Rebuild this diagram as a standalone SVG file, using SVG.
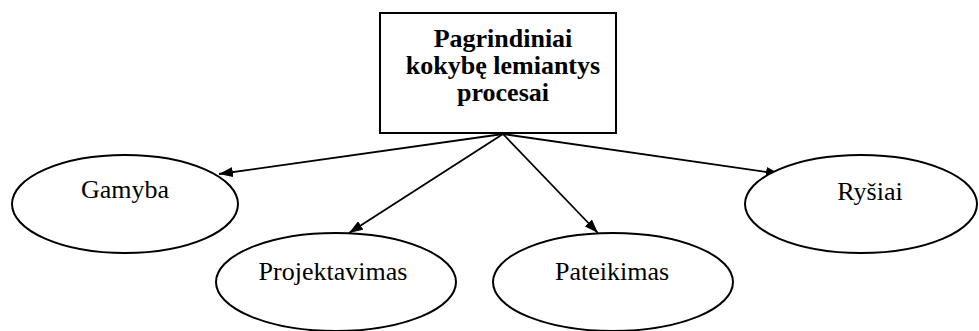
<svg xmlns="http://www.w3.org/2000/svg" width="979" height="331" viewBox="0 0 979 331">
  <defs>
    <marker id="arrow" viewBox="0 0 14 10" refX="14" refY="5" markerWidth="14" markerHeight="10" markerUnits="userSpaceOnUse" orient="auto">
      <path d="M0,0 L14,5 L0,10 Z" fill="#000"/>
    </marker>
    <style>
      .shape { fill: #fff; stroke: #000; stroke-width: 2; }
      .edge { fill: none; stroke: #000; stroke-width: 1.8; marker-end: url(#arrow); }
      .label { font-family: "Liberation Serif", "Times New Roman", serif; font-size: 26px; fill: #000; text-anchor: middle; }
      .title { font-weight: bold; }
    </style>
  </defs>

  <rect width="979" height="331" fill="#fff"/>

  <!-- connectors from the central box to each process -->
  <g id="connectors">
    <line class="edge" x1="503" y1="134" x2="219" y2="174"/>
    <line class="edge" x1="503" y1="134" x2="349" y2="233"/>
    <line class="edge" x1="503" y1="134" x2="598" y2="233"/>
    <line class="edge" x1="503" y1="134" x2="780" y2="174"/>
  </g>

  <g id="root">
    <rect class="shape" x="380" y="13" width="236" height="120"/>
    <text class="label title" x="503" y="47">Pagrindiniai</text>
    <text class="label title" x="503" y="74">kokybę lemiantys</text>
    <text class="label title" x="503" y="101">procesai</text>
  </g>

  <g id="gamyba">
    <ellipse class="shape" cx="125" cy="204" rx="113" ry="49"/>
    <text class="label" x="125" y="198">Gamyba</text>
  </g>

  <g id="projektavimas">
    <ellipse class="shape" cx="336" cy="282" rx="120" ry="49"/>
    <text class="label" x="333" y="280">Projektavimas</text>
  </g>

  <g id="pateikimas">
    <ellipse class="shape" cx="613" cy="282" rx="120" ry="49"/>
    <text class="label" x="612" y="280">Pateikimas</text>
  </g>

  <g id="rysiai">
    <ellipse class="shape" cx="861" cy="204" rx="116" ry="49"/>
    <text class="label" x="870" y="200">Ryšiai</text>
  </g>
</svg>
